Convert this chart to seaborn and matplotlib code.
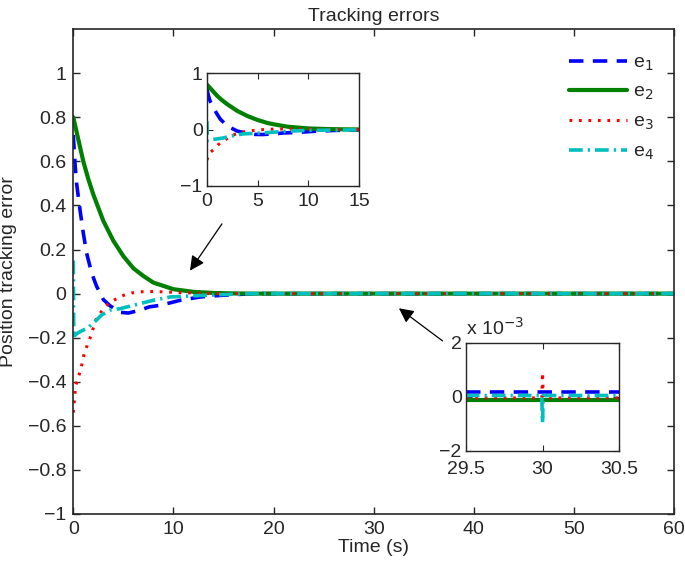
import numpy as np
import matplotlib
matplotlib.use("Agg")
import matplotlib.pyplot as plt
import seaborn as sns

sns.set_style("ticks")
plt.rcParams['font.family'] = ['Liberation Sans', 'DejaVu Sans']
plt.rcParams['xtick.direction'] = 'in'
plt.rcParams['ytick.direction'] = 'in'
plt.rcParams['xtick.top'] = True
plt.rcParams['ytick.right'] = True

# main curves
t1 = [0, 0.17, 0.33, 0.67, 1.0, 1.33, 1.83, 2.33, 3.0, 3.67, 4.67, 5.5, 6.6, 7.6, 8.7, 10.7, 12.7, 14.7, 18, 60]
e1 = [0.72, 0.59, 0.50, 0.38, 0.275, 0.184, 0.094, 0.033, -0.027, -0.055, -0.085, -0.088, -0.076, -0.06,
      -0.053, -0.03, -0.015, -0.008, 0, 0]
t2 = [0, 0.5, 1, 1.5, 2, 3, 4, 5, 6, 7, 8, 10, 12, 14, 16, 18, 60]
e2 = [0.8, 0.70, 0.60, 0.52, 0.45, 0.33, 0.24, 0.17, 0.115, 0.08, 0.05, 0.02, 0.008, 0.003, 0.001, 0, 0]
t3 = [0, 0.1, 0.23, 0.5, 0.77, 1.1, 1.43, 1.77, 2.23, 2.83, 3.5, 4.17, 5.0, 5.83, 6.67, 7.5, 9, 11, 13, 15, 18, 60]
e3 = [-0.54, -0.49, -0.42, -0.38, -0.34, -0.27, -0.23, -0.19, -0.12, -0.08, -0.045, -0.027, -0.008, 0.003,
      0.008, 0.01, 0.008, 0.004, 0.002, 0, 0, 0]
t4 = [0, 0.05, 0.13, 0.47, 1.47, 2.13, 2.8, 3.67, 4.7, 6.7, 8, 9.7, 13, 15.7, 18, 60]
e4 = [0.15, -0.2, -0.19, -0.178, -0.154, -0.128, -0.098, -0.075, -0.068, -0.045, -0.03, -0.015, -0.008,
      -0.003, 0, 0]

# zoom around t = 30 (units of 1e-3)
tz = [29.5, 29.995, 30.0, 30.005, 30.5]
z1 = [0.17, 0.17, 0.17, 0.17, 0.17]
z2 = [-0.12, -0.12, -0.12, -0.12, -0.12]
z3 = [-0.04, -0.04, 0.9, -0.04, -0.04]
z4 = [0.05, 0.05, -0.96, 0.05, 0.05]

labels = ['e$_1$', 'e$_2$', 'e$_3$', 'e$_4$']
colors = ['#0000ff', '#008000', '#ff0000', '#00bfbf']
styles = [dict(lw=2.6, dashes=(4.0, 2.6)),
          dict(lw=3.0),
          dict(lw=2.2, dashes=(0.9, 2.2)),
          dict(lw=2.6, dashes=(3.8, 1.4, 0.6, 1.4))]
series = [(t1, e1), (t2, e2), (t3, e3), (t4, e4)]
zseries = [z1, z2, z3, z4]

FS = 14

fig = plt.figure(figsize=(6.85, 5.67), dpi=100)
ax = fig.add_axes([0.107, 0.0935, 0.877, 0.855])

for (t, e), lab, c, st in zip(series, labels, colors, styles):
    sns.lineplot(x=t, y=e, ax=ax, color=c, label=lab, estimator=None, sort=False, **st)

ax.set_xlim(0, 60)
ax.set_ylim(-1, 1.2)
ax.set_xticks(range(0, 61, 10))
yt = [-1, -0.8, -0.6, -0.4, -0.2, 0, 0.2, 0.4, 0.6, 0.8, 1]
ax.set_yticks(yt)
ax.set_yticklabels(['\u22121', '\u22120.8', '\u22120.6', '\u22120.4', '\u22120.2', '0',
                    '0.2', '0.4', '0.6', '0.8', '1'])
ax.tick_params(labelsize=FS, length=5, width=1, pad=5)
ax.set_title('Tracking errors', fontsize=FS, pad=6)
ax.set_xlabel('Time (s)', fontsize=FS)
ax.set_ylabel('Position tracking error', fontsize=FS)
ax.yaxis.set_label_coords(-0.093, 0.5)
ax.xaxis.set_label_coords(0.5, -0.052)
for s in ax.spines.values():
    s.set_linewidth(1.2)
ax.legend(loc='upper right', bbox_to_anchor=(0.995, 0.985), frameon=False, fontsize=FS,
          handlelength=3.0, labelspacing=0.55, handletextpad=0.3)

ax.annotate('', xy=(11.5, 0.094), xytext=(15.0, 0.327),
            arrowprops=dict(arrowstyle='-|>', color='black', lw=0.9, mutation_scale=22))
ax.annotate('', xy=(32.3, -0.059), xytext=(37.1, -0.222),
            arrowprops=dict(arrowstyle='-|>', color='black', lw=0.9, mutation_scale=22))

# inset 1
a1 = fig.add_axes([0.302, 0.672, 0.222, 0.199])
for (t, e), c, st in zip(series, colors, styles):
    sns.lineplot(x=t, y=e, ax=a1, color=c, estimator=None, sort=False, **st)
a1.set_xlim(0, 15)
a1.set_ylim(-1, 1)
a1.set_xticks([0, 5, 10, 15])
a1.set_yticks([-1, 0, 1])
a1.set_yticklabels(['\u22121', '0', '1'])
a1.tick_params(labelsize=FS, length=4, pad=3)
a1.tick_params(axis='x', pad=5)

# inset 2
a2 = fig.add_axes([0.680, 0.2046, 0.224, 0.191])
for z, c, st in zip(zseries, colors, styles):
    sns.lineplot(x=tz, y=z, ax=a2, color=c, estimator=None, sort=False, **st)
a2.set_xlim(29.5, 30.5)
a2.set_ylim(-2, 2)
a2.set_xticks([29.5, 30, 30.5])
a2.set_xticklabels(['29.5', '30', '30.5'])
a2.set_yticks([-2, 0, 2])
a2.set_yticklabels(['\u22122', '0', '2'])
a2.tick_params(labelsize=FS, length=4, pad=3)
a2.tick_params(axis='x', pad=7)
a2.text(0.0, 1.04, 'x 10$^{-3}$', transform=a2.transAxes, fontsize=FS, ha='left', va='bottom')

for a in (a1, a2):
    for s in a.spines.values():
        s.set_linewidth(1.0)

fig.savefig('out.png', dpi=100)
